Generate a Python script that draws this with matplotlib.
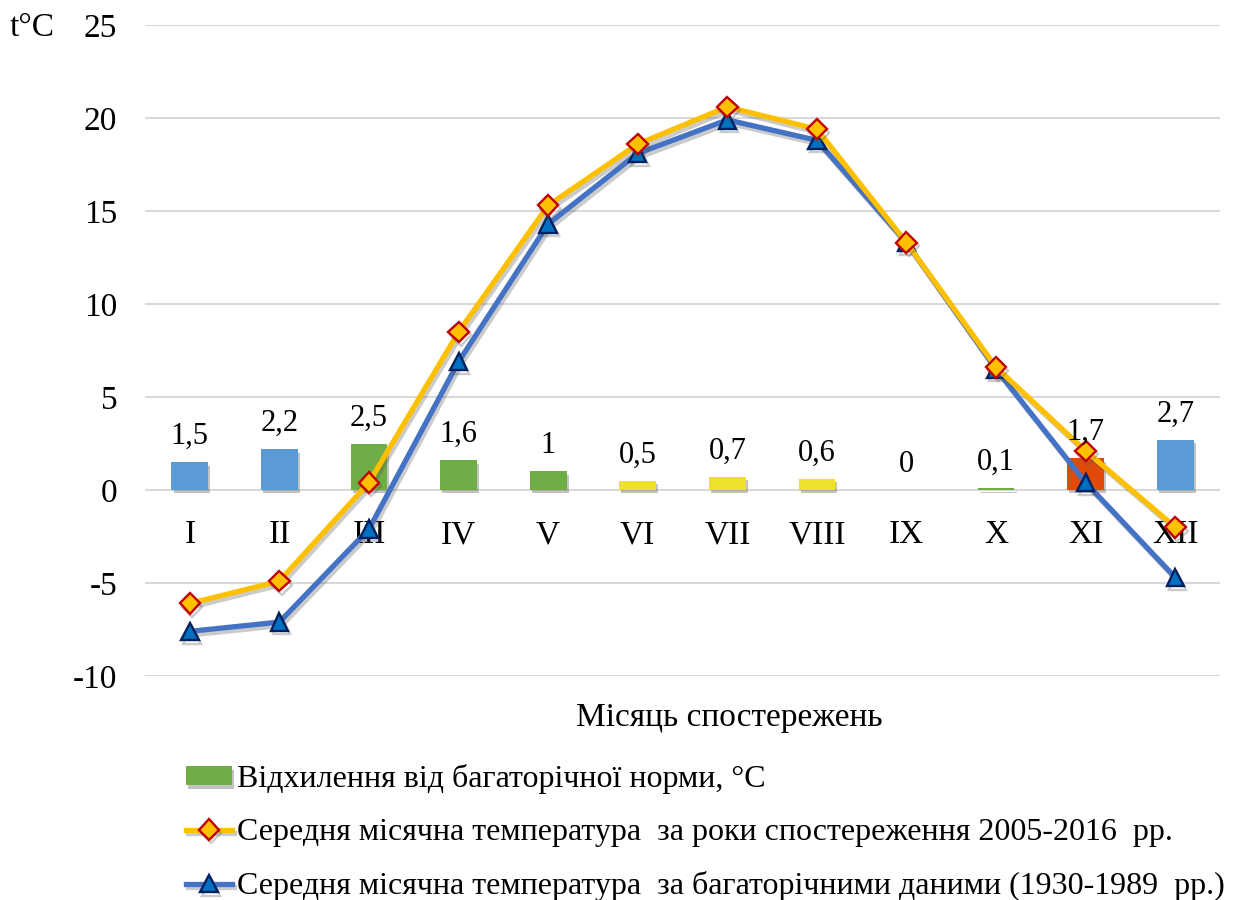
import matplotlib.pyplot as plt
import matplotlib.patheffects as pe
import numpy as np

plt.rcParams['font.family'] = ['Liberation Serif', 'DejaVu Serif']
plt.rcParams['axes.unicode_minus'] = False

# months and values
months = ['I', 'II', 'III', 'IV', 'V', 'VI', 'VII', 'VIII', 'IX', 'X', 'XI', 'XII']
deviation = [1.5, 2.2, 2.5, 1.6, 1.0, 0.5, 0.7, 0.6, 0.0, 0.1, 1.7, 2.7]
dev_labels = ['1,5', '2,2', '2,5', '1,6', '1', '0,5', '0,7', '0,6', '0', '0,1', '1,7', '2,7']
temp_2005_2016 = [-6.1, -4.9, 0.4, 8.5, 15.3, 18.6, 20.6, 19.4, 13.3, 6.6, 2.1, -2.0]
temp_1930_1989 = [-7.6, -7.1, -2.1, 6.9, 14.3, 18.1, 19.9, 18.8, 13.3, 6.5, 0.4, -4.7]
bar_colors = ['#5B9BD5', '#5B9BD5', '#70AD47', '#70AD47', '#70AD47', '#EEE12A',
              '#EEE12A', '#EEE12A', '#E6E6E6', '#70AD47', '#E04A0A', '#5B9BD5']

fig = plt.figure(figsize=(12.43, 9), dpi=100)
ax = fig.add_axes([0.1167, 0.2489, 0.8648, 0.7233])

x = np.arange(len(months))
shadow = [pe.SimplePatchShadow(offset=(1.5, -2.5), shadow_rgbFace='#555555', alpha=0.35), pe.Normal()]
bars = ax.bar(x, deviation, width=0.41, color=bar_colors, zorder=2)
for b in bars:
    b.set_path_effects(shadow)

for xi, v, lab in zip(x, deviation, dev_labels):
    ax.annotate(lab, (xi, v), xytext=(0, 8), textcoords='offset points',
                ha='center', va='bottom', fontsize=22, zorder=5)

line_shadow = [pe.SimpleLineShadow(offset=(1.5, -2.5), shadow_color='#555555', alpha=0.3), pe.Normal()]
l1, = ax.plot(x, temp_2005_2016, color='#FFC000', lw=3.8, marker='D', markersize=10.5,
              markerfacecolor='#FFC000', markeredgecolor='#C00000', markeredgewidth=1.7,
              zorder=4, path_effects=line_shadow)
l2, = ax.plot(x, temp_1930_1989, color='#4472C4', lw=3.8, marker='^', markersize=12.5,
              markerfacecolor='#0070C0', markeredgecolor='#002060', markeredgewidth=1.7,
              zorder=3, path_effects=line_shadow)

ax.set_xlim(-0.5, len(months) - 0.5)
ax.set_ylim(-10, 25)
ax.set_yticks(np.arange(-10, 26, 5))
ax.yaxis.grid(True, color='#D9D9D9', lw=1.5, zorder=0)
ax.set_axisbelow(True)
for s in ax.spines.values():
    s.set_visible(False)
ax.tick_params(axis='both', length=0, labelsize=24)
ax.tick_params(axis='y', pad=20)
ax.set_xticks(x)
ax.set_xticklabels([])
for xi, m in zip(x, months):
    ax.text(xi, -1.6, m, ha='center', va='top', fontsize=24, zorder=1)

fig.text(0.008, 0.969, 't°C', ha='left', va='center', fontsize=24)
fig.text(0.587, 0.202, 'Місяць спостережень', ha='center', va='center', fontsize=24)

leg = fig.legend([bars[2], l1, l2],
                 ['Відхилення від багаторічної норми, °C',
                  'Середня місячна температура  за роки спостереження 2005-2016  рр.',
                  'Середня місячна температура  за багаторічними даними (1930-1989  рр.)'],
                 loc='upper left', bbox_to_anchor=(0.1495, 0.151), frameon=False,
                 fontsize=23, handlelength=1.45, handleheight=0.55, handletextpad=0.15,
                 labelspacing=0.75, borderaxespad=0, borderpad=0)

fig.savefig('out.png', dpi=100)
